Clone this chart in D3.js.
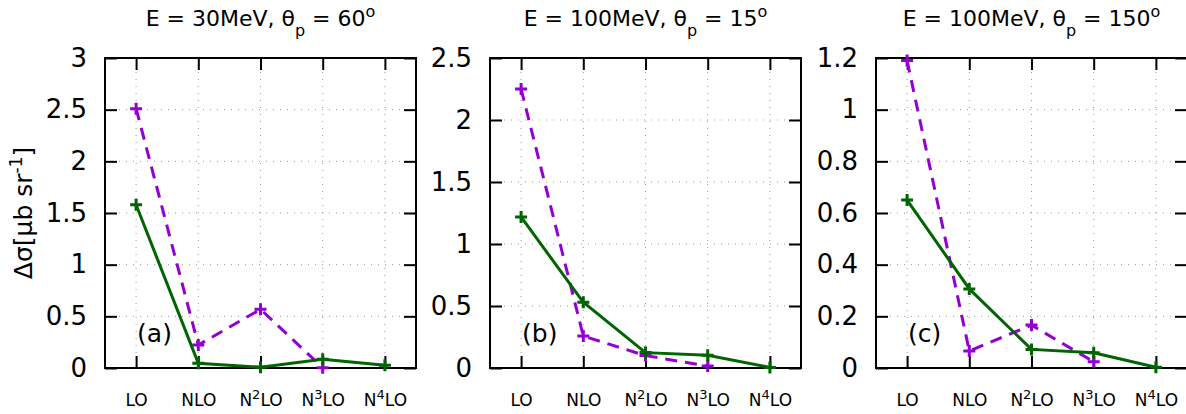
<!DOCTYPE html>
<html>
<head>
<meta charset="utf-8">
<script src="https://cdn.jsdelivr.net/npm/d3@7"></script>
<style>
  body { margin: 0; background: #fff; }
  svg { font-family: "DejaVu Sans", sans-serif; }
</style>
</head>
<body>
<div id="chart"></div>
<script>
// chart data
var categories = ["LO", "NLO", "N2LO", "N3LO", "N4LO"];
var panelLetters = ["(a)", "(b)", "(c)"];
var energies = ["30", "100", "100"];
var angles = ["60", "15", "150"];

var greenA = [1.58, 0.045, 0.008, 0.084, 0.026];
var purpleA = [2.51, 0.223, 0.568, 0.003];
var greenB = [1.218, 0.53, 0.124, 0.102, 0.005];
var purpleB = [2.25, 0.258, 0.10, 0.016];
var greenC = [0.65, 0.306, 0.072, 0.059, 0.003];
var purpleC = [1.19, 0.066, 0.166, 0.024];

var yMaxes = [3, 2.5, 1.2];
var yTicksA = [0, 0.5, 1, 1.5, 2, 2.5, 3];
var yTicksB = [0, 0.5, 1, 1.5, 2, 2.5];
var yTicksC = [0, 0.2, 0.4, 0.6, 0.8, 1, 1.2];

// layout
var svgWidth = 1186;
var svgHeight = 414;
var panelLefts = [105, 490, 876];
var panelTop = 58;
var panelWidth = 311;
var panelHeight = 310;

var green = "#006400";
var purple = "#9400d3";

var svg = d3.select("#chart")
  .append("svg")
  .attr("width", svgWidth)
  .attr("height", svgHeight);

// y axis title
var yTitle = svg.append("text")
  .attr("transform", "translate(32, 213) rotate(-90)")
  .attr("text-anchor", "middle")
  .attr("font-size", "25px");
yTitle.append("tspan").text("Δσ[μb sr");
yTitle.append("tspan").attr("baseline-shift", "super").attr("font-size", "17px").text("-1");
yTitle.append("tspan").attr("baseline-shift", "0").text("]");

function labelCategory(sel, name) {
  var m = name.match(/^N(\d)LO$/);
  if (m) {
    sel.append("tspan").text("N");
    sel.append("tspan").attr("baseline-shift", "super").attr("font-size", "13px").text(m[1]);
    sel.append("tspan").attr("baseline-shift", "0").text("LO");
  } else {
    sel.text(name);
  }
}

function drawPanel(i, greenVals, purpleVals, yTicks) {
  var g = svg.append("g")
    .attr("transform", `translate(${panelLefts[i]}, ${panelTop})`);

  var x = d3.scalePoint()
    .domain(categories)
    .range([0, panelWidth])
    .padding(0.5);

  var y = d3.scaleLinear()
    .domain([0, yMaxes[i]])
    .range([panelHeight, 0]);

  // dotted grid
  g.selectAll(".gx")
    .data(categories)
    .enter()
    .append("line")
    .attr("x1", d => x(d))
    .attr("x2", d => x(d))
    .attr("y1", 0)
    .attr("y2", panelHeight)
    .attr("stroke", "#999")
    .attr("stroke-width", 1)
    .attr("stroke-dasharray", "1,6");

  g.selectAll(".gy")
    .data(yTicks.slice(1, -1))
    .enter()
    .append("line")
    .attr("x1", 0)
    .attr("x2", panelWidth)
    .attr("y1", d => y(d))
    .attr("y2", d => y(d))
    .attr("stroke", "#999")
    .attr("stroke-width", 1)
    .attr("stroke-dasharray", "1,6");

  // axes with inward ticks
  var left = g.append("g")
    .call(d3.axisLeft(y).tickValues(yTicks).tickSize(-12).tickPadding(18).tickFormat(d => String(d)));
  left.selectAll("text").attr("font-size", "26px").attr("font-family", "DejaVu Sans").attr("fill", "#000");

  g.append("g")
    .attr("transform", `translate(${panelWidth}, 0)`)
    .call(d3.axisRight(y).tickValues(yTicks).tickSize(-12).tickFormat(""));

  g.append("g")
    .call(d3.axisTop(x).tickSize(-12).tickFormat(""));

  var bottom = g.append("g")
    .attr("transform", `translate(0, ${panelHeight})`)
    .call(d3.axisBottom(x).tickSize(-12).tickFormat(""));

  g.selectAll(".domain").remove();
  g.selectAll(".tick line").attr("stroke", "#000").attr("stroke-width", 2);

  bottom.selectAll(".tick")
    .append("text")
    .attr("y", 38)
    .attr("text-anchor", "middle")
    .attr("font-size", "17px")
    .attr("font-family", "DejaVu Sans")
    .attr("fill", "#000")
    .each(function(d) { labelCategory(d3.select(this), d); });

  // frame
  g.append("rect")
    .attr("width", panelWidth)
    .attr("height", panelHeight)
    .attr("fill", "none")
    .attr("stroke", "#000")
    .attr("stroke-width", 2);

  var line = d3.line()
    .x((d, j) => x(categories[j]))
    .y(d => y(d));

  // purple dashed series
  g.append("path")
    .datum(purpleVals)
    .attr("d", line)
    .attr("fill", "none")
    .attr("stroke", purple)
    .attr("stroke-width", 3)
    .attr("stroke-dasharray", "12,8");

  g.selectAll(".pm")
    .data(purpleVals)
    .enter()
    .append("path")
    .attr("d", (d, j) => `M${x(categories[j]) - 6},${y(d)}h12M${x(categories[j])},${y(d) - 6}v12`)
    .attr("stroke", purple)
    .attr("stroke-width", 3);

  // green solid series
  g.append("path")
    .datum(greenVals)
    .attr("d", line)
    .attr("fill", "none")
    .attr("stroke", green)
    .attr("stroke-width", 3);

  g.selectAll(".gm")
    .data(greenVals)
    .enter()
    .append("path")
    .attr("d", (d, j) => `M${x(categories[j]) - 6},${y(d)}h12M${x(categories[j])},${y(d) - 6}v12`)
    .attr("stroke", green)
    .attr("stroke-width", 3);

  // panel letter
  g.append("text")
    .attr("x", x(categories[0]) + 1)
    .attr("y", panelHeight - 26)
    .attr("font-size", "25px")
    .text(panelLetters[i]);

  // title
  var t = svg.append("text")
    .attr("x", panelLefts[i] + panelWidth / 2)
    .attr("y", 26)
    .attr("text-anchor", "middle")
    .attr("font-size", "22px");
  t.append("tspan").text(`E = ${energies[i]}MeV, θ`);
  t.append("tspan").attr("baseline-shift", "sub").attr("font-size", "16px").text("p");
  t.append("tspan").attr("baseline-shift", "0").text(` = ${angles[i]}`);
  t.append("tspan").attr("baseline-shift", "super").attr("font-size", "16px").text("o");
}

drawPanel(0, greenA, purpleA, yTicksA);
drawPanel(1, greenB, purpleB, yTicksB);
drawPanel(2, greenC, purpleC, yTicksC);
</script>
</body>
</html>
